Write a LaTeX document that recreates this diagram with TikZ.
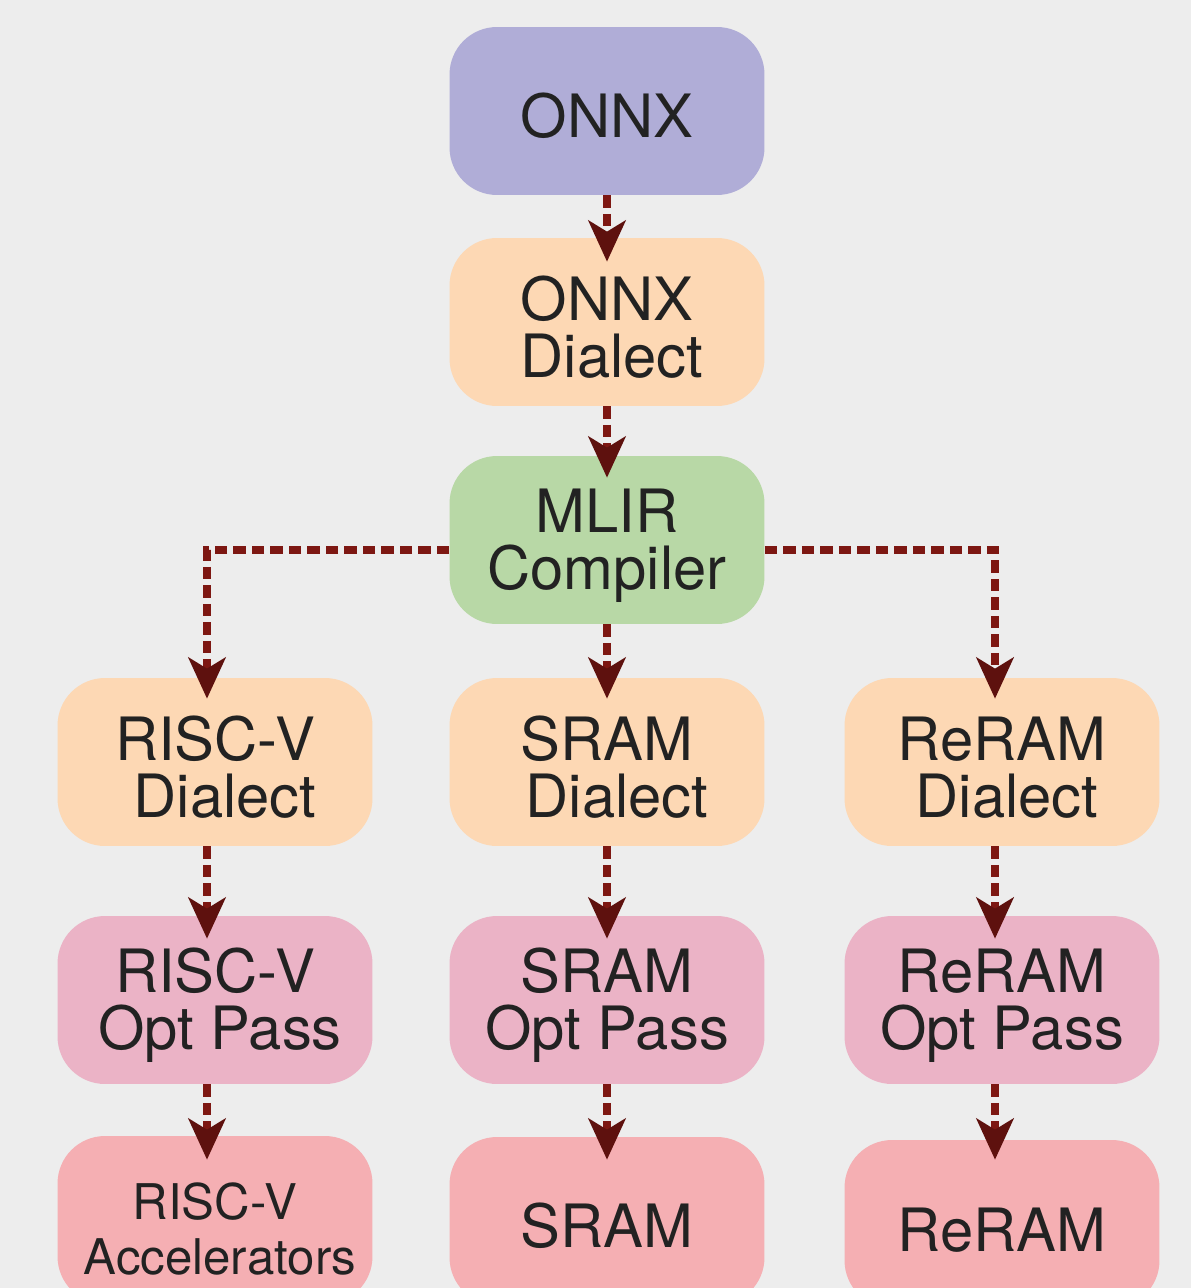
\documentclass[tikz,border=0pt]{standalone}
\usepackage{fontspec}
\setmainfont{TeX Gyre Heros}
\usetikzlibrary{arrows.meta}
\definecolor{bgcol}{HTML}{EDEDED}
\definecolor{onnxcol}{HTML}{B0ADD7}
\definecolor{dialectcol}{HTML}{FDD8B4}
\definecolor{mlircol}{HTML}{B8D8A6}
\definecolor{optcol}{HTML}{EBB3C6}
\definecolor{hwcol}{HTML}{F5AFB3}
\definecolor{linecol}{HTML}{7D1712}
\definecolor{tipcol}{HTML}{5E110E}
\definecolor{txtcol}{HTML}{222222}
\newcommand{\tallstrut}{\rule{0pt}{1.1cm}}
\tikzset{
  block/.style={rectangle, rounded corners=0.95cm, minimum width=6.3cm, minimum height=3.36cm,
    inner sep=0pt, align=center, text=txtcol, font=\fontsize{34}{32}\selectfont},
  smallblock/.style={block, font=\fontsize{28}{31}\selectfont},
  flow/.style={draw=linecol, line width=0.15cm, dash pattern=on 0.25cm off 0.12cm,
    -{Stealth[length=0.82cm,width=0.74cm,inset=0.22cm,color=tipcol]}},
}
\begin{document}
\begin{tikzpicture}[x=0.02cm,y=-0.02cm]
\clip (0,0) rectangle (1191,1288);
\fill[bgcol] (0,0) rectangle (1191,1288);
\node[block, fill=onnxcol] (onnx) at (607,111) {\tallstrut ONNX};
\node[block, fill=dialectcol] (onnxd) at (607,322) {\tallstrut ONNX\\\hspace*{0.2cm}Dialect};
\node[block, fill=mlircol] (mlir) at (607,540) {\tallstrut MLIR\\Compiler};
\node[block, fill=dialectcol] (riscvd) at (215,762) {\tallstrut RISC-V\\\hspace*{0.4cm}Dialect};
\node[block, fill=dialectcol] (sramd) at (607,762) {\tallstrut SRAM\\\hspace*{0.4cm}Dialect};
\node[block, fill=dialectcol] (reramd) at (1002,762) {\tallstrut ReRAM\\\hspace*{0.2cm}Dialect};
\node[block, fill=optcol] (riscvo) at (215,1000) {\tallstrut RISC-V\\\hspace*{0.2cm}Opt Pass};
\node[block, fill=optcol] (sramo) at (607,1000) {\tallstrut SRAM\\Opt Pass};
\node[block, fill=optcol] (reramo) at (1002,1000) {\tallstrut ReRAM\\Opt Pass};
\node[smallblock, fill=hwcol] (riscvhw) at (215,1220) {\tallstrut RISC-V\\\hspace*{0.2cm}Accelerators};
\node[block, fill=hwcol] (sramhw) at (607,1221) {\tallstrut SRAM};
\node[block, fill=hwcol] (reramhw) at (1002,1224) {\tallstrut ReRAM};
\draw[flow] (onnx.south) -- ([yshift=-0.48cm]onnxd.north);
\draw[flow] (onnxd.south) -- ([yshift=-0.44cm]mlir.north);
\draw[flow] ([yshift=-0.2cm]mlir.west) -| ([xshift=-0.16cm,yshift=-0.42cm]riscvd.north);
\draw[flow] (mlir.south) -- ([yshift=-0.42cm]sramd.north);
\draw[flow] ([yshift=-0.2cm]mlir.east) -| ([xshift=-0.14cm,yshift=-0.42cm]reramd.north);
\draw[flow] ([xshift=-0.16cm]riscvd.south) -- ([xshift=-0.16cm,yshift=-0.46cm]riscvo.north);
\draw[flow] (sramd.south) -- ([yshift=-0.46cm]sramo.north);
\draw[flow] ([xshift=-0.14cm]reramd.south) -- ([xshift=-0.14cm,yshift=-0.46cm]reramo.north);
\draw[flow] ([xshift=-0.16cm]riscvo.south) -- ([xshift=-0.16cm,yshift=-0.48cm]riscvhw.north);
\draw[flow] (sramo.south) -- ([yshift=-0.46cm]sramhw.north);
\draw[flow] ([xshift=-0.14cm]reramo.south) -- ([xshift=-0.14cm,yshift=-0.4cm]reramhw.north);
\end{tikzpicture}
\end{document}
